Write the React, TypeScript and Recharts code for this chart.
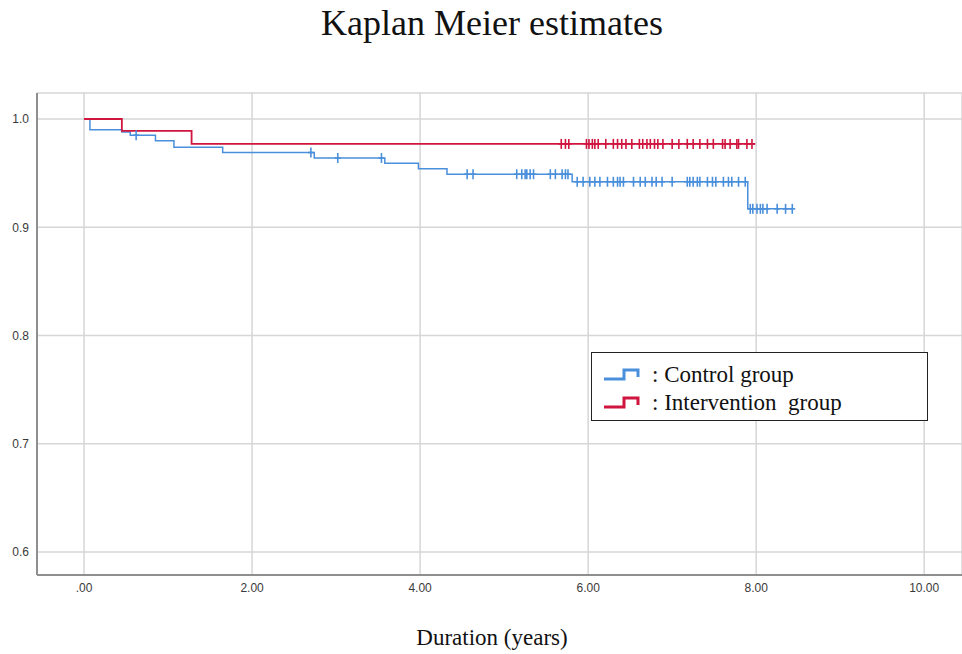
import { ComposedChart, Line, Scatter, XAxis, YAxis, CartesianGrid } from "recharts";

const X_TICKS = [0, 2, 4, 6, 8, 10];
const Y_TICKS = [0.6, 0.7, 0.8, 0.9, 1.0];

// step points: time (years) and survival after the step
const CONTROL_TIMES = [0, 0.07, 0.45, 0.55, 0.85, 1.07, 1.65, 2.74, 3.58, 3.98, 4.32, 5.81, 7.9, 8.43];
const CONTROL_SURV = [1.0, 0.99, 0.988, 0.985, 0.98, 0.974, 0.969, 0.964, 0.959, 0.954, 0.949, 0.942, 0.917, 0.917];
const INTERV_TIMES = [0, 0.45, 1.28, 7.99];
const INTERV_SURV = [1.0, 0.989, 0.977, 0.977];

// censored observations (years)
const CONTROL_CENSORED = [
  0.62, 2.7, 3.02, 3.54, 4.56, 4.63,
  5.15, 5.21, 5.25, 5.27, 5.31, 5.35, 5.55, 5.61, 5.69, 5.73, 5.76,
  5.87, 5.94, 6.02, 6.08, 6.14, 6.23, 6.3, 6.35, 6.38, 6.42, 6.54, 6.62, 6.68, 6.76, 6.81, 6.88,
  7.0, 7.18, 7.21, 7.25, 7.3, 7.33, 7.42, 7.48, 7.52, 7.61, 7.67, 7.71, 7.79, 7.87,
  7.93, 7.96, 8.01, 8.05, 8.08, 8.13, 8.25, 8.35, 8.43,
];
const INTERV_CENSORED = [
  5.68, 5.73, 5.77, 5.98, 6.01, 6.05, 6.08, 6.12, 6.21, 6.3, 6.35, 6.4, 6.45, 6.52, 6.61, 6.65,
  6.7, 6.74, 6.79, 6.83, 6.89, 7.0, 7.08, 7.18, 7.25, 7.33, 7.42, 7.49, 7.6, 7.63, 7.69, 7.77,
  7.79, 7.89, 7.95,
];

const BLUE = "#4a8fdc";
const RED = "#d0163f";

function steps(times: number[], surv: number[]) {
  return times.map((t, i) => ({ t, s: surv[i] }));
}

function survivalAt(times: number[], surv: number[], t: number) {
  let v = surv[0];
  for (let i = 0; i < times.length; i++) if (times[i] <= t) v = surv[i];
  return v;
}

function censored(list: number[], times: number[], surv: number[]) {
  return list.map((t) => ({ t, s: survivalAt(times, surv, t) }));
}

const controlLine = steps(CONTROL_TIMES, CONTROL_SURV);
const intervLine = steps(INTERV_TIMES, INTERV_SURV);
const controlCens = censored(CONTROL_CENSORED, CONTROL_TIMES, CONTROL_SURV);
const intervCens = censored(INTERV_CENSORED, INTERV_TIMES, INTERV_SURV);

const Plus = (color: string) => (props: any) => {
  const { cx, cy } = props;
  if (cx == null || cy == null) return <g />;
  return (
    <g stroke={color} strokeWidth={1.6}>
      <line x1={cx} y1={cy - 5} x2={cx} y2={cy + 5} />
      <line x1={cx - 3} y1={cy} x2={cx + 3} y2={cy} />
    </g>
  );
};

const StepIcon = ({ color }: { color: string }) => (
  <svg width={38} height={14} style={{ display: "block" }}>
    <path d="M1,11 H21 V2 H35 V9" fill="none" stroke={color} strokeWidth={3} />
  </svg>
);

const tickStyle = { fill: "#3a3a3a", fontSize: 12, fontFamily: "Liberation Sans, Arial, sans-serif" };

export default function App() {
  return (
    <div style={{ position: "absolute", left: 0, top: 0, width: 962, height: 654, background: "#fff", overflow: "hidden" }}>
      <div
        style={{
          position: "absolute", left: 0, width: 984, top: 5, textAlign: "center",
          fontFamily: "Liberation Serif, Times New Roman, serif", fontSize: 36, lineHeight: "36px", color: "#111",
        }}
      >
        Kaplan Meier estimates
      </div>
      <ComposedChart width={962} height={654} margin={{ top: 93, right: 0, bottom: 39, left: 0 }}>
        <CartesianGrid stroke="#d6d6d6" strokeWidth={1.5} />
        <XAxis
          dataKey="t"
          type="number"
          domain={[-0.56, 10.45]}
          ticks={X_TICKS}
          allowDataOverflow
          height={40}
          tickLine={false}
          axisLine={{ stroke: "#8f8f8f", strokeWidth: 2 }}
          tick={tickStyle}
          tickFormatter={(v: number) => (v === 0 ? ".00" : v.toFixed(2))}
        />
        <YAxis
          type="number"
          domain={[0.5788, 1.024]}
          ticks={Y_TICKS}
          allowDataOverflow
          width={37}
          tickLine={false}
          axisLine={{ stroke: "#8f8f8f", strokeWidth: 2 }}
          tick={tickStyle}
          tickFormatter={(v: number) => v.toFixed(1)}
        />
        <Line data={controlLine} dataKey="s" type="stepAfter" stroke={BLUE} strokeWidth={1.5} dot={false} isAnimationActive={false} />
        <Line data={intervLine} dataKey="s" type="stepAfter" stroke={RED} strokeWidth={1.8} dot={false} isAnimationActive={false} />
        <Scatter data={controlCens} dataKey="s" shape={Plus(BLUE)} isAnimationActive={false} />
        <Scatter data={intervCens} dataKey="s" shape={Plus(RED)} isAnimationActive={false} />
      </ComposedChart>
      <div
        style={{
          position: "absolute", left: 591, top: 352, width: 335, height: 67, border: "1px solid #222", background: "#fff",
          fontFamily: "Liberation Serif, Times New Roman, serif", fontSize: 23, color: "#111",
        }}
      >
        <div style={{ position: "absolute", left: 11, top: 15 }}><StepIcon color={BLUE} /></div>
        <div style={{ position: "absolute", left: 60, top: 10, lineHeight: "24px", whiteSpace: "pre" }}>: Control group</div>
        <div style={{ position: "absolute", left: 11, top: 43 }}><StepIcon color={RED} /></div>
        <div style={{ position: "absolute", left: 60, top: 38, lineHeight: "24px", whiteSpace: "pre" }}>: Intervention  group</div>
      </div>
      <div
        style={{
          position: "absolute", left: 0, width: 984, top: 626, textAlign: "center",
          fontFamily: "Liberation Serif, Times New Roman, serif", fontSize: 23, lineHeight: "23px", color: "#111",
        }}
      >
        Duration (years)
      </div>
    </div>
  );
}
